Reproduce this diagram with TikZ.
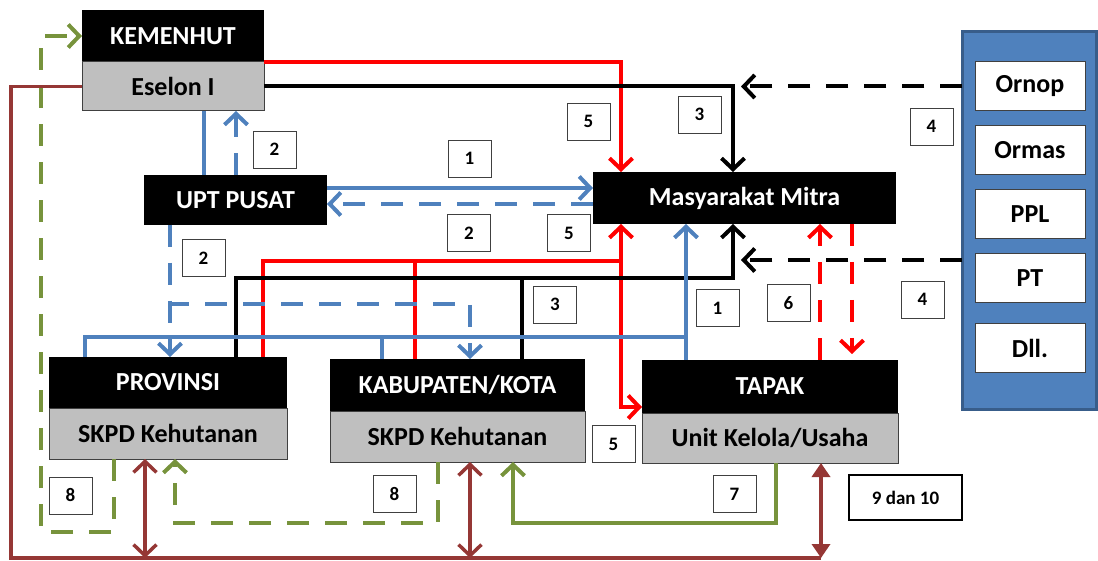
\documentclass[tikz,border=0pt]{standalone}
\usepackage{fontspec}
\setmainfont{Carlito}
\usetikzlibrary{arrows.meta}
\definecolor{cFF0000}{RGB}{255,0,0}
\definecolor{c4F81BD}{RGB}{79,129,189}
\definecolor{c385D8A}{RGB}{56,93,138}
\definecolor{c77933C}{RGB}{119,147,60}
\definecolor{c953735}{RGB}{149,55,53}
\definecolor{cBFBFBF}{RGB}{191,191,191}
\definecolor{c404040}{RGB}{64,64,64}

\begin{document}
\begin{tikzpicture}[y=1pt,x=1pt,yscale=-1,inner sep=0pt,outer sep=0pt,
    >={Straight Barb[length=11pt,width=23pt]},
    headbox/.style={fill=black,text=white,font=\bfseries\fontsize{26}{30}\selectfont},
    subbox/.style={fill=cBFBFBF,draw=c404040,line width=1pt,font=\bfseries\fontsize{26}{30}\selectfont},
    orgbox/.style={fill=white,draw=c404040,line width=1pt,minimum width=110pt,
      minimum height=49pt,font=\bfseries\fontsize{26}{30}\selectfont},
    numbox/.style={fill=white,draw=c404040,line width=0.8pt,minimum width=43pt,
      minimum height=37pt,font=\bfseries\fontsize{19}{22}\selectfont},
    redln/.style={draw=cFF0000,line width=4pt},
    blkln/.style={draw=black,line width=4pt},
    bluln/.style={draw=c4F81BD,line width=4pt},
    grnln/.style={draw=c77933C,line width=4pt},
    brnln/.style={draw=c953735,line width=3.5pt},
    dsh/.style={dash pattern=on 22pt off 16pt}]
  \useasboundingbox (0,0) rectangle (1098,561);

  % boxes
  \node[headbox,minimum width=182pt,minimum height=52pt] (kemenhut) at (173,36) {KEMENHUT};
  \node[subbox,minimum width=182pt,minimum height=49pt] (eselon) at (173,86.5) {Eselon I};
  \node[headbox,minimum width=183pt,minimum height=50pt] (upt) at (235.5,200) {UPT PUSAT};
  \node[headbox,minimum width=303pt,minimum height=52pt] (mitra) at (744.5,198) {Masyarakat Mitra};
  \node[headbox,minimum width=238pt,minimum height=51pt] (provinsi) at (168,382.5) {PROVINSI};
  \node[subbox,minimum width=238pt,minimum height=51pt] (skpdprov) at (168,433.5) {SKPD Kehutanan};
  \node[headbox,minimum width=255pt,minimum height=52pt] (kabupaten) at (457.5,385) {KABUPATEN/KOTA};
  \node[subbox,minimum width=255pt,minimum height=51pt] (skpdkab) at (457.5,436.5) {SKPD Kehutanan};
  \node[headbox,minimum width=256pt,minimum height=53pt] (tapak) at (770,386.5) {TAPAK};
  \node[subbox,minimum width=256pt,minimum height=50pt] (unit) at (770,438) {Unit Kelola/Usaha};

  % mitra luar
  \node[fill=c4F81BD,draw=c385D8A,line width=3pt,minimum width=134pt,minimum height=377pt]
    (panel) at (1029.25,220.5) {};
  \node[orgbox] (ornop) at (1030,86.5) {Ornop};
  \node[orgbox] (ormas) at (1030,150.5) {Ormas};
  \node[orgbox] (ppl) at (1030,214.5) {PPL};
  \node[orgbox] (pt) at (1030,278.5) {PT};
  \node[orgbox] (dll) at (1030,348) {Dll.};

  % lanes
  \coordinate (xRed) at (621,0);
  \coordinate (xRedP) at (263,0);
  \coordinate (xRedK) at (415,0);
  \coordinate (yRed) at (0,261);
  \coordinate (yRedT) at (0,407);
  \coordinate (xBlk) at (733,0);
  \coordinate (xBlkP) at (236,0);
  \coordinate (xBlkK) at (522,0);
  \coordinate (yBlk) at (0,278);
  \coordinate (xTip) at (741,0);
  \coordinate (yLow) at (0,260);
  \coordinate (xBluA) at (204,0);
  \coordinate (xBluB) at (236,0);
  \coordinate (xBluC) at (170,0);
  \coordinate (xBluK) at (470,0);
  \coordinate (xBluP) at (85,0);
  \coordinate (xBluQ) at (382,0);
  \coordinate (xBlu) at (686,0);
  \coordinate (yBluA) at (0,188);
  \coordinate (yBluB) at (0,204);
  \coordinate (yBluD) at (0,304);
  \coordinate (yBluE) at (0,337);
  \coordinate (xUp) at (820,0);
  \coordinate (xDn) at (852,0);
  \coordinate (xGrnA) at (114,0);
  \coordinate (xGrnB) at (41,0);
  \coordinate (xGrnC) at (438,0);
  \coordinate (xGrnD) at (175,0);
  \coordinate (xGrnE) at (776,0);
  \coordinate (xGrnF) at (513,0);
  \coordinate (yGrnA) at (0,532);
  \coordinate (yGrnB) at (0,523);
  \coordinate (xBrn) at (11,0);
  \coordinate (xBrnP) at (145,0);
  \coordinate (xBrnK) at (470,0);
  \coordinate (xBrnT) at (821,0);
  \coordinate (yBrn) at (0,558);

  % red
  \draw[redln,->] (kemenhut.south east) -| (xRed |- mitra.north);
  \draw[redln] (provinsi.north -| xRedP) |- (yRed -| xRed);
  \draw[redln] (kabupaten.north -| xRedK) -- (yRed -| xRedK);
  \draw[redln,<->] (mitra.south -| xRed) |- (tapak.west |- yRedT);
  \draw[redln,dsh,->] (tapak.north -| xUp) -- (mitra.south -| xUp);
  \draw[redln,dsh,->] (mitra.south -| xDn) -- ([yshift=-6pt]tapak.north -| xDn);

  % black
  \draw[blkln,->] (eselon.east) -| (xBlk |- mitra.north);
  \draw[blkln,->] (provinsi.north -| xBlkP) |- (yBlk -| xBlk) -- (mitra.south -| xBlk);
  \draw[blkln] (kabupaten.north -| xBlkK) -- (yBlk -| xBlkK);
  \draw[blkln,dsh,->] (ornop.west -| panel.west) -- (ornop.west -| xTip);
  \draw[blkln,dsh,->] (yLow -| panel.west) -- (yLow -| xTip);

  % blue
  \draw[bluln] (eselon.south -| xBluA) -- (upt.north -| xBluA);
  \draw[bluln,dsh,->] (upt.north -| xBluB) -- (eselon.south -| xBluB);
  \draw[bluln,->] (upt.east |- yBluA) -- (mitra.west |- yBluA);
  \draw[bluln,dsh,->] (mitra.west |- yBluB) -- (upt.east |- yBluB);
  \draw[bluln,dsh,->] (upt.south -| xBluC) -- (provinsi.north -| xBluC);
  \draw[bluln,dsh,->] (upt.south -| xBluC) |- (yBluD -| xBluK) -- (kabupaten.north -| xBluK);
  \draw[bluln] (provinsi.north -| xBluP) |- (yBluE -| xBlu);
  \draw[bluln] (kabupaten.north -| xBluQ) -- (yBluE -| xBluQ);
  \draw[bluln,->] (tapak.north -| xBlu) -- (mitra.south -| xBlu);

  % green
  \draw[grnln,dsh,->] (skpdprov.south -| xGrnA) |- (yGrnA -| xGrnB) |- (kemenhut.west);
  \draw[grnln,dsh,->] (skpdkab.south -| xGrnC) |- (yGrnB -| xGrnD) -- (skpdprov.south -| xGrnD);
  \draw[grnln,->] (unit.south -| xGrnE) |- (yGrnB -| xGrnF) -- (skpdkab.south -| xGrnF);

  % brown
  \draw[brnln] (eselon.west) -| (yBrn -| xBrn) -- (yBrn -| xBrnT);
  \draw[brnln,<->] (skpdprov.south -| xBrnP) -- (yBrn -| xBrnP);
  \draw[brnln,<->] (skpdkab.south -| xBrnK) -- (yBrn -| xBrnK);
  \draw[brnln,{Triangle[length=14pt,width=18pt]}-{Triangle[length=14pt,width=18pt]}]
    (unit.south -| xBrnT) -- (yBrn -| xBrnT);

  % numbers
  \node[numbox] (n2a) at (274.5,149.5) {2};
  \node[numbox] (n1a) at (469.5,158.5) {1};
  \node[numbox] (n5a) at (588.5,121.5) {5};
  \node[numbox] (n3a) at (699.5,114.5) {3};
  \node[numbox] (n4a) at (931.5,126.5) {4};
  \node[numbox] (n2b) at (469,233) {2};
  \node[numbox] (n5b) at (569,233) {5};
  \node[numbox] (n2c) at (203.5,258) {2};
  \node[numbox] (n3b) at (555,304.5) {3};
  \node[numbox] (n1b) at (717.5,308) {1};
  \node[numbox] (n6) at (788.5,303) {6};
  \node[numbox] (n4b) at (922.5,299.5) {4};
  \node[numbox] (n5c) at (613.5,444) {5};
  \node[numbox] (n8a) at (70.5,495.5) {8};
  \node[numbox] (n8b) at (394.5,494) {8};
  \node[numbox] (n7) at (734.5,494) {7};
  \node[numbox,line width=1.5pt,draw=black,minimum width=113pt,minimum height=45pt]
    (n910) at (905.5,497.5) {9 dan 10};
\end{tikzpicture}
\end{document}
